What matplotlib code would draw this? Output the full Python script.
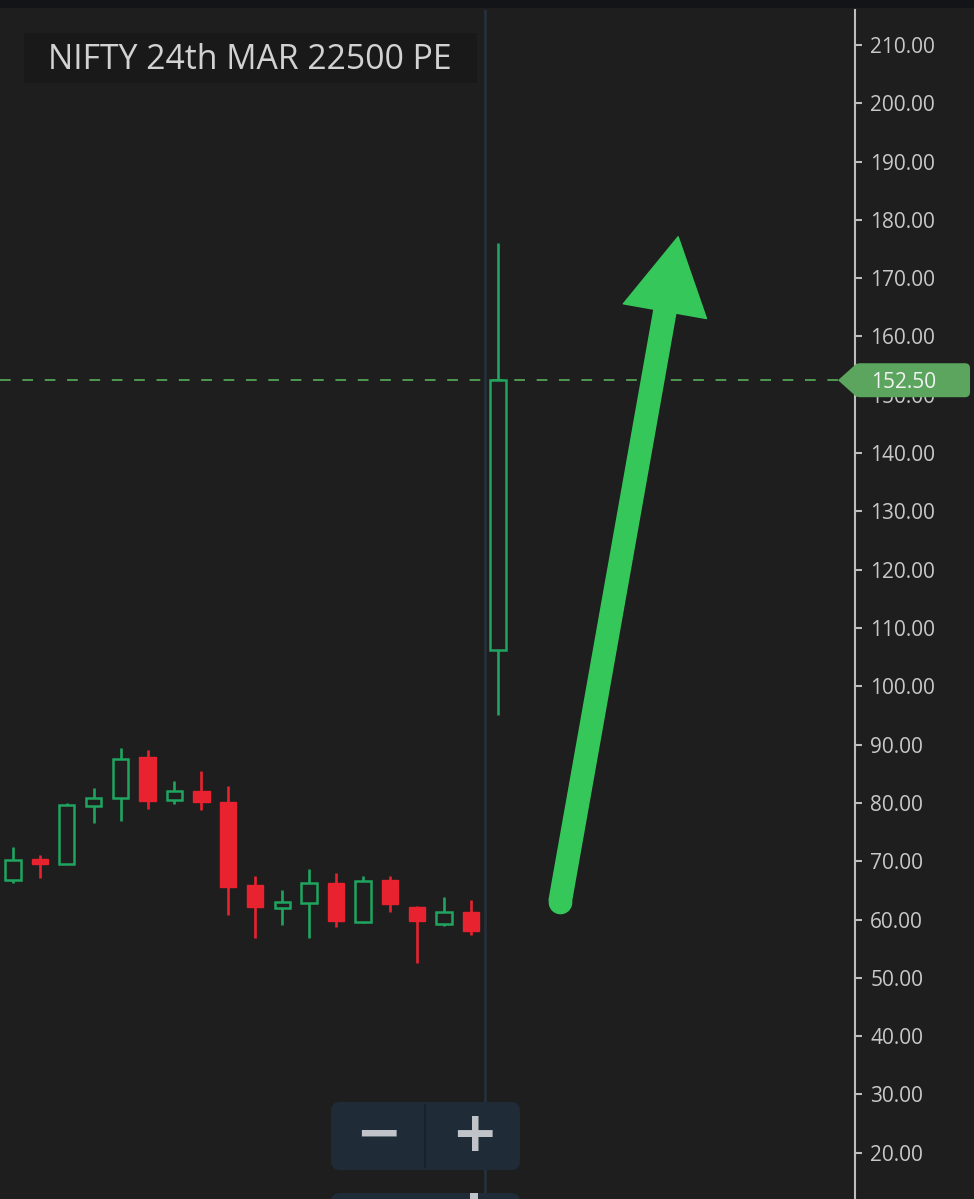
import numpy as np
import matplotlib
matplotlib.use("Agg")
import matplotlib.pyplot as plt
import matplotlib.transforms as mtransforms
from matplotlib.patches import Rectangle, FancyBboxPatch, Polygon

plt.rcParams['font.family'] = ['Open Sans', 'DejaVu Sans']

# candle data
title = "NIFTY 24th MAR 22500 PE"
opens = [66.7, 70.3, 69.6, 79.4, 80.9, 87.8, 80.5, 82.1, 80.1, 65.9,
         61.9, 62.8, 66.2, 59.5, 66.7, 62.2, 59.3, 61.3, 106.2]
highs = [72.4, 71.1, 80.0, 82.5, 89.4, 89.0, 83.8, 85.4, 82.9, 67.5,
         65.1, 68.7, 67.9, 67.5, 67.5, 62.3, 63.8, 63.3, 176.0]
lows = [66.3, 67.1, 69.5, 76.5, 76.9, 78.9, 79.8, 78.8, 60.7, 56.9,
        59.0, 56.9, 58.7, 59.4, 61.3, 52.5, 58.9, 57.3, 95.1]
closes = [70.2, 69.5, 79.6, 80.8, 87.6, 80.4, 82.1, 80.1, 65.5, 62.2,
          63.0, 66.2, 59.7, 66.6, 62.7, 59.7, 61.3, 58.1, 152.5]
last_price = 152.5
session_break = 17.5
yticks = list(range(20, 211, 10))
arrow_tail = (20.3, 63.0)
arrow_tip = (24.68, 177.1)

bg = '#1e1e1e'
up_col = '#1fa55f'
down_col = '#e8222e'
W, H = 974, 1199

fig = plt.figure(figsize=(W / 100, H / 100), dpi=100, facecolor=bg)
ax = fig.add_axes([0, 0, 855 / W, 1 - 10 / H])
ax.set_facecolor(bg)
ax.set_xlim(-0.471, 31.24)
ax.set_ylim(12.06, 216.0)

for s in ['left', 'top', 'bottom']:
    ax.spines[s].set_visible(False)
ax.spines['right'].set_color('#bdbdbd')
ax.spines['right'].set_linewidth(1.5)
ax.set_xticks([])
ax.yaxis.tick_right()
ax.set_yticks(yticks)
ax.set_yticklabels([f"{v:.2f}" for v in yticks])
ax.tick_params(axis='y', direction='out', length=5, width=1.5, color='#bdbdbd',
               labelcolor='#c8c8c8', labelsize=15, pad=6)

# session line
ax.axvline(session_break, color='#27313d', lw=1.8, zorder=1)

# candles
x = np.arange(len(opens))
o = np.array(opens); c = np.array(closes)
up = c >= o
ax.vlines(x[up], np.array(lows)[up], np.array(highs)[up], color=up_col, lw=1.9, zorder=2)
ax.vlines(x[~up], np.array(lows)[~up], np.array(highs)[~up], color=down_col, lw=1.9, zorder=2)
ax.bar(x[up], (c - o)[up], bottom=o[up], width=0.58, facecolor=bg,
       edgecolor=up_col, linewidth=1.8, zorder=3)
ax.bar(x[~up], (o - c)[~up], bottom=c[~up], width=0.6, facecolor=down_col,
       edgecolor=down_col, linewidth=1.0, zorder=3)

# last price line
ax.axhline(last_price, color='#4f9a52', lw=1.4, ls=(0, (5.5, 6)), zorder=2)

# big arrow
arrow_col = '#35c759'
ax.annotate('', xy=arrow_tip, xytext=arrow_tail,
            arrowprops=dict(arrowstyle='simple,head_length=3.4,head_width=3.8,tail_width=1.0',
                            mutation_scale=16, fc=arrow_col, ec=arrow_col, lw=1,
                            shrinkA=0, shrinkB=0), zorder=5)
ax.plot(*arrow_tail, 'o', ms=16, color=arrow_col, zorder=5)

# ---- overlay UI in pixel coordinates ----
ident = mtransforms.IdentityTransform()

def top(y):
    return H - y

fig.add_artist(Rectangle((0, top(8)), W, 8, transform=ident, fc='#131418', ec='none'))

# title box
fig.add_artist(Rectangle((24, top(83)), 453, 50, transform=ident, fc='#191919', ec='none'))
fig.text(48, top(60), title, transform=ident, fontsize=24.3, color='#d2d2d2',
         ha='left', va='center')

# price tag
yd = ax.transData.transform((0, last_price))[1]
tag_col = '#5ba55e'
fig.add_artist(Polygon([(838, yd), (857, yd + 17), (857, yd - 17)], closed=True,
                       transform=ident, fc=tag_col, ec='none'))
fig.add_artist(FancyBboxPatch((855, yd - 17), 115, 34, boxstyle='round,pad=0,rounding_size=5',
                              transform=ident, fc=tag_col, ec='none'))
fig.text(904, yd, f"{last_price:.2f}", transform=ident, fontsize=15, color='#f2f2f2',
         ha='center', va='center_baseline')

# zoom buttons
btn_col = '#1f2b36'
fig.add_artist(FancyBboxPatch((331, top(1170)), 189, 68, boxstyle='round,pad=0,rounding_size=9',
                              transform=ident, fc=btn_col, ec='none'))
fig.add_artist(Rectangle((424, top(1168)), 2, 64, transform=ident, fc='#18222c', ec='none'))
fig.add_artist(FancyBboxPatch((331, top(1240)), 189, 47, boxstyle='round,pad=0,rounding_size=9',
                              transform=ident, fc=btn_col, ec='none'))
fig.add_artist(Rectangle((470, 0), 8, 6, transform=ident, fc='#c0c4c8', ec='none'))
fig.text(378, top(1136), "\u2212", transform=ident, fontsize=40, fontweight='bold',
         color='#c0c4c8', ha='center', va='center', family='DejaVu Sans')
fig.text(474, top(1136), "+", transform=ident, fontsize=40, fontweight='bold',
         color='#c0c4c8', ha='center', va='center', family='DejaVu Sans')

fig.savefig("out.png", dpi=100, facecolor=bg)
